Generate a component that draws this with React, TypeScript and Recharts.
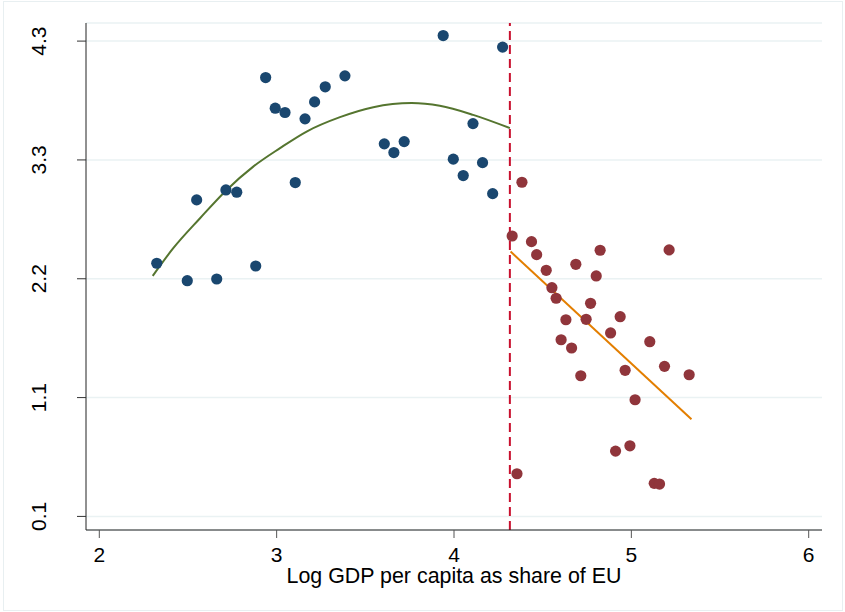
import React from 'react';
import { ComposedChart, Scatter, Line, XAxis, YAxis, CartesianGrid, ReferenceLine } from 'recharts';

// countries below the cutoff
const preX = [2.324, 2.496, 2.549, 2.662, 2.714, 2.775, 2.882, 2.938, 2.992, 3.047, 3.105, 3.16, 3.214, 3.274, 3.385, 3.607, 3.661, 3.719, 3.939, 3.996, 4.052, 4.107, 4.161, 4.218, 4.274];
const preY = [2.337, 2.183, 2.897, 2.198, 2.985, 2.965, 2.313, 3.978, 3.707, 3.669, 3.05, 3.613, 3.763, 3.896, 3.993, 3.392, 3.315, 3.412, 4.349, 3.257, 3.112, 3.571, 3.226, 2.952, 4.247];

// countries above the cutoff
const postX = [4.383, 4.328, 4.437, 4.466, 4.52, 4.552, 4.576, 4.631, 4.604, 4.663, 4.715, 4.687, 4.824, 4.802, 4.77, 4.745, 4.937, 4.883, 5.104, 4.965, 5.187, 5.326, 5.021, 5.213, 4.911, 4.992, 4.355, 5.129, 5.159];
const postY = [3.053, 2.578, 2.528, 2.413, 2.275, 2.121, 2.028, 1.838, 1.661, 1.588, 1.343, 2.328, 2.452, 2.225, 1.983, 1.842, 1.865, 1.721, 1.644, 1.391, 1.426, 1.352, 1.131, 2.455, 0.677, 0.724, 0.477, 0.392, 0.386];

// fitted curves
const quadFitX = [2.301, 2.417, 2.568, 2.718, 2.868, 3.019, 3.169, 3.357, 3.545, 3.761, 3.92, 4.108, 4.315];
const quadFitY = [2.225, 2.47, 2.735, 2.985, 3.191, 3.354, 3.501, 3.628, 3.716, 3.752, 3.728, 3.648, 3.531];
const linFitX = [4.319, 5.339];
const linFitY = [2.44, 0.958];

const cutoff = 4.315;

const xTicks = [2, 3, 4, 5, 6];
const yTicks = [0.1, 1.15, 2.2, 3.25, 4.3];
const yTickLabels = ['0.1', '1.1', '2.2', '3.3', '4.3'];

const zip = (xs: number[], ys: number[]) => xs.map((x, i) => ({ x, y: ys[i] }));

const font = '"Liberation Sans", Arial, sans-serif';

const dot = (fill: string) => (props: any) =>
  <circle cx={props.cx} cy={props.cy} r={5.6} fill={fill} />;

const YTick = (props: any) => {
  const { x, y, index } = props;
  const tx = x - 30.5;
  return (
    <text x={tx} y={y} transform={`rotate(-90, ${tx}, ${y})`} textAnchor="middle"
      fontSize={21} fontFamily={font} fill="#000">
      {yTickLabels[index]}
    </text>
  );
};

const XTick = (props: any) => {
  const { x, y, payload } = props;
  return (
    <text x={x} y={y + 24} textAnchor="middle" fontSize={21} fontFamily={font} fill="#000">
      {payload.value}
    </text>
  );
};

const XTitle = (props: any) => {
  const vb = props.viewBox || { x: 86, width: 736 };
  return (
    <text x={vb.x + vb.width / 2} y={583} textAnchor="middle" fontSize={21.4} fontFamily={font} fill="#000">
      Log GDP per capita as share of EU
    </text>
  );
};

export default function App() {
  return (
    <div style={{ position: 'absolute', left: 0, top: 0, width: 845, height: 612, background: '#fff' }}>
      <div style={{ position: 'absolute', left: 3, top: 1, width: 838, height: 608, border: '1.5px solid #e8eff1' }} />
      <ComposedChart width={845} height={612} margin={{ top: 23, right: 23, left: 10, bottom: 20 }}>
        <CartesianGrid vertical={false} stroke="#eaf2f3" strokeWidth={1.5} />
        <XAxis
          type="number"
          dataKey="x"
          domain={[1.925, 6.075]}
          ticks={xTicks}
          allowDataOverflow
          height={62}
          tickSize={8}
          tickMargin={0}
          stroke="#222"
          tickLine={{ stroke: '#555' }}
          tick={<XTick />}
          label={{ content: <XTitle /> }}
        />
        <YAxis
          type="number"
          dataKey="y"
          domain={[-0.02, 4.46]}
          ticks={yTicks}
          allowDataOverflow
          width={76}
          tickSize={9}
          tickMargin={0}
          stroke="#222"
          tickLine={{ stroke: '#333' }}
          tick={<YTick />}
        />
        <ReferenceLine x={cutoff} stroke="#c8102e" strokeWidth={2} strokeDasharray="9 5" />
        <Scatter data={zip(preX, preY)} fill="#1a476f" shape={dot('#1a476f')} isAnimationActive={false} />
        <Scatter data={zip(postX, postY)} fill="#90353b" shape={dot('#90353b')} isAnimationActive={false} />
        <Line data={zip(quadFitX, quadFitY)} dataKey="y" type="monotone" stroke="#55752f" strokeWidth={2}
          dot={false} activeDot={false} isAnimationActive={false} />
        <Line data={zip(linFitX, linFitY)} dataKey="y" type="linear" stroke="#e37e00" strokeWidth={2}
          dot={false} activeDot={false} isAnimationActive={false} />
      </ComposedChart>
    </div>
  );
}
